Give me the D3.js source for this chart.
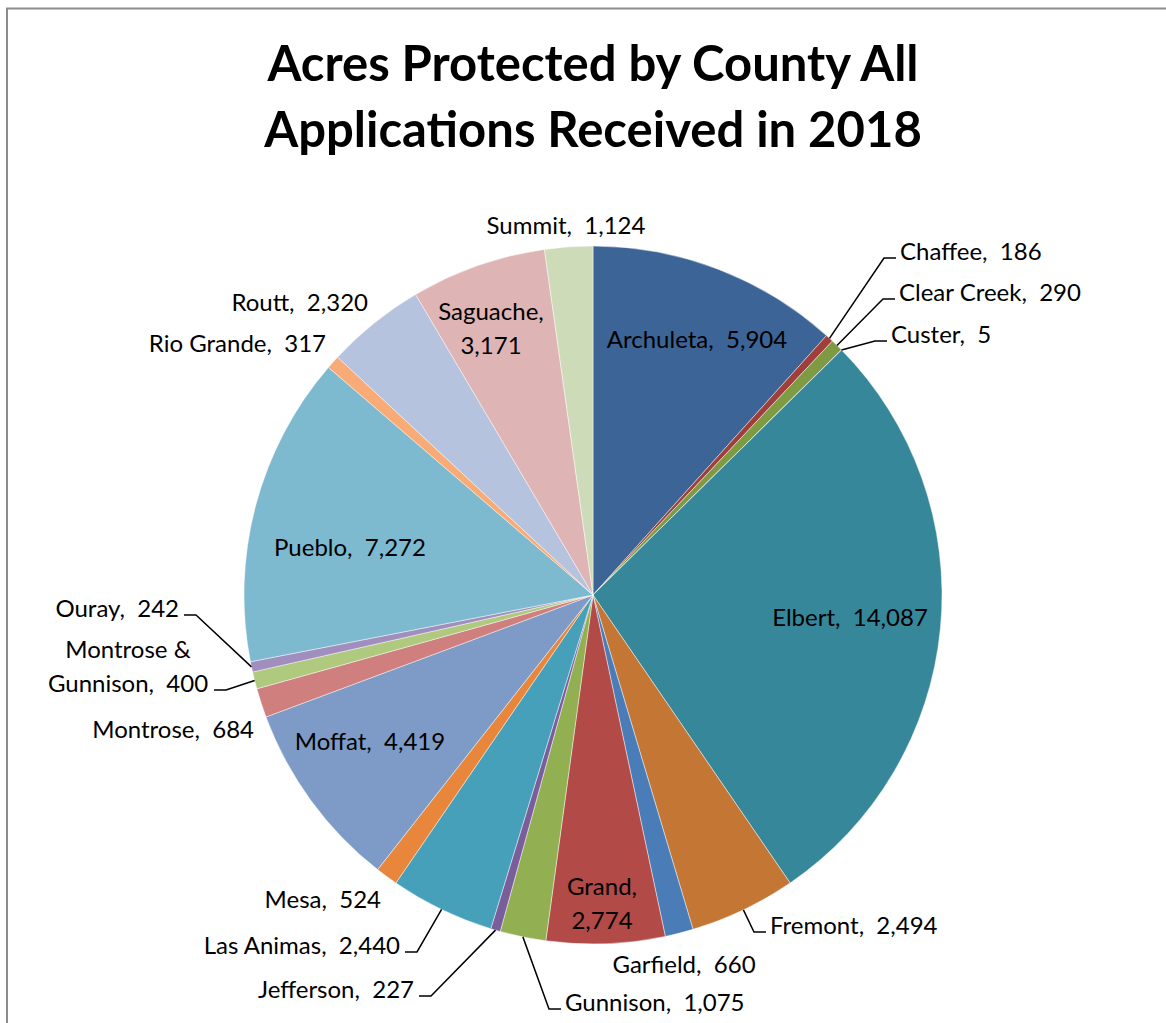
<!DOCTYPE html>
<html>
<head>
<meta charset="utf-8">
<script src="https://cdn.jsdelivr.net/npm/d3@7/dist/d3.min.js"></script>
<style>
  body { margin: 0; background: #fff; }
  text { font-family: Lato, "Open Sans", sans-serif; fill: #000; white-space: pre; }
</style>
</head>
<body>
<svg id="chart" width="1166" height="1023"></svg>
<script>
// data
var counties = ["Archuleta", "Chaffee", "Clear Creek", "Custer", "Elbert", "Fremont",
    "Garfield", "Grand", "Gunnison", "Jefferson", "Las Animas", "Mesa", "Moffat",
    "Montrose", "Montrose & Gunnison", "Ouray", "Pueblo", "Rio Grande", "Routt",
    "Saguache", "Summit"];
var acres = [5904, 186, 290, 5, 14087, 2494, 660, 2774, 1075, 227, 2440, 524, 4419,
    684, 400, 242, 7272, 317, 2320, 3171, 1124];
var sliceColors = ["#3c6496", "#a03e3b", "#7e9a42", "#65507f", "#37879a", "#c47635",
    "#4a7cb8", "#b24a48", "#92b052", "#7a5e9c", "#46a0b9", "#e8873c", "#7e9bc8",
    "#cf7f7d", "#afc97f", "#a08ebe", "#7db9cf", "#f8ab76", "#b5c3de", "#deb5b4", "#cedbb8"];
var titleLines = ["Acres Protected by County All", "Applications Received in 2018"];

// where excel put each data label (x, baseline y, anchor, leader line, line break)
var labelLayout = {
    "Archuleta":           {x: 697, y: 348, a: "middle"},
    "Chaffee":             {x: 900, y: 260, a: "start", leader: true},
    "Clear Creek":         {x: 899, y: 301, a: "start", leader: true},
    "Custer":              {x: 891, y: 343, a: "start", leader: true},
    "Elbert":              {x: 850, y: 626, a: "middle"},
    "Fremont":             {x: 770, y: 934, a: "start", leader: true},
    "Garfield":            {x: 684, y: 973, a: "middle"},
    "Grand":               {x: 602, y: 895, a: "middle", brk: ","},
    "Gunnison":            {x: 565, y: 1011, a: "start", leader: true},
    "Jefferson":           {x: 414, y: 998, a: "end", leader: true},
    "Las Animas":          {x: 400, y: 954, a: "end", leader: true},
    "Mesa":                {x: 381, y: 908, a: "end"},
    "Moffat":              {x: 370, y: 750, a: "middle"},
    "Montrose":            {x: 254, y: 738, a: "end"},
    "Montrose & Gunnison": {x: 128, y: 658, a: "middle", brk: "&", leader: true, lx: 209},
    "Ouray":               {x: 179, y: 617, a: "end", leader: true},
    "Pueblo":              {x: 350, y: 556, a: "middle"},
    "Rio Grande":          {x: 326, y: 352, a: "end"},
    "Routt":               {x: 368, y: 311, a: "end"},
    "Saguache":            {x: 491, y: 320, a: "middle", brk: ","},
    "Summit":              {x: 566, y: 234, a: "middle"}
};

var w = 1166, h = 1023;
var cx = 593, cy = 595, radius = 349;
var lineGap = 34;

var data = counties.map(function(c, i) {
    return {name: c, value: acres[i], color: sliceColors[i]};
});

var svg = d3.select("#chart");

// chart frame
svg.append("rect")
    .attr("x", 7)
    .attr("y", 8.5)
    .attr("width", w + 20)
    .attr("height", h + 20)
    .attr("fill", "none")
    .attr("stroke", "#8c8c8c")
    .attr("stroke-width", 2);

// title
svg.selectAll(".title")
    .data(titleLines)
    .enter()
    .append("text")
    .attr("class", "title")
    .attr("x", cx)
    .attr("y", function(d, i) { return 81 + i * 66; })
    .attr("text-anchor", "middle")
    .attr("font-weight", "bold")
    .attr("font-size", "49px")
    .text(function(d) { return d; });

var pie = d3.pie()
    .sort(null)
    .value(function(d) { return d.value; });

var arc = d3.arc()
    .innerRadius(0)
    .outerRadius(radius);

var rim = d3.arc()
    .innerRadius(radius)
    .outerRadius(radius);

var arcs = pie(data);

var g = svg.append("g")
    .attr("transform", "translate(" + cx + "," + cy + ")");

g.selectAll("path")
    .data(arcs)
    .enter()
    .append("path")
    .attr("d", arc)
    .attr("fill", function(d) { return d.data.color; })
    .attr("stroke", "#fff")
    .attr("stroke-opacity", 0.6)
    .attr("stroke-width", 0.75);

var fmt = d3.format(",");

function labelLines(d) {
    var txt = d.name + ",  " + fmt(d.value);
    var lay = labelLayout[d.name];
    if (lay.brk == ",") return [d.name + ",", fmt(d.value)];
    if (lay.brk == "&") {
        var k = d.name.indexOf("&") + 1;
        return [d.name.slice(0, k), d.name.slice(k + 1) + ",  " + fmt(d.value)];
    }
    return [txt];
}

// leader lines
var leaders = arcs.filter(function(d) { return labelLayout[d.data.name].leader; });
svg.selectAll(".leader")
    .data(leaders)
    .enter()
    .append("polyline")
    .attr("class", "leader")
    .attr("fill", "none")
    .attr("stroke", "#000")
    .attr("stroke-width", 1.5)
    .attr("points", function(d) {
        var lay = labelLayout[d.data.name];
        var p = rim.centroid(d);
        var n = labelLines(d.data).length;
        var ly = lay.y + (n - 1) * lineGap - 2;
        var x0, x1;
        if (lay.a == "start") { x1 = lay.x - 4; x0 = x1 - 12; }
        else { var ex = lay.lx || lay.x; x1 = ex + 5; x0 = x1 + 12; }
        return [[cx + p[0], cy + p[1]], [x0, ly], [x1, ly]].join(" ");
    });

// data labels
var lab = svg.selectAll(".label")
    .data(data)
    .enter()
    .append("text")
    .attr("class", "label")
    .attr("font-size", "24px")
    .attr("text-anchor", function(d) { return labelLayout[d.name].a; });

lab.selectAll("tspan")
    .data(function(d) { return labelLines(d).map(function(t) { return {t: t, lay: labelLayout[d.name]}; }); })
    .enter()
    .append("tspan")
    .attr("x", function(d) { return d.lay.x; })
    .attr("y", function(d, i) { return d.lay.y + i * lineGap; })
    .text(function(d) { return d.t; });
</script>
</body>
</html>
